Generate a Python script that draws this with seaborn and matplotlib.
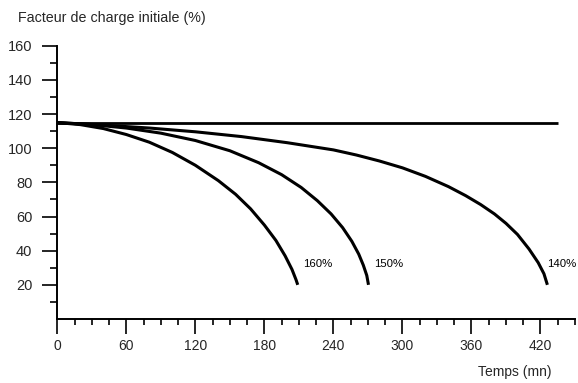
import numpy as np
import pandas as pd
import matplotlib
matplotlib.use("Agg")
import matplotlib.pyplot as plt
import seaborn as sns
from matplotlib.ticker import MultipleLocator, FixedLocator

# ---- data ----
flat_t = [0, 435]
flat_v = [115, 115]

c160_t = [0, 20, 40, 60, 80, 100, 120, 140, 155, 168, 180, 190, 198, 204, 207.5, 209]
c160_v = [115, 113.8, 111.5, 108, 103.5, 97.5, 90, 81, 73, 64.5, 55, 46, 37, 29, 23, 20]

c150_t = [0, 30, 60, 90, 120, 150, 175, 195, 212, 226, 238, 248, 256, 262, 266, 269, 270.5]
c150_v = [115, 113.8, 111.8, 108.8, 104.5, 98.5, 91.5, 84.5, 77, 69.3, 61.5, 53.5, 45.5, 38, 31.5, 25.5, 20]

c140_t = [0, 40, 80, 120, 160, 200, 240, 260, 280, 300, 320, 340, 355, 368, 380, 390, 400, 410, 418, 423, 426]
c140_v = [115, 113.5, 111.8, 109.6, 106.8, 103.2, 99, 96, 92.5, 88.5, 83.5, 77.5, 72.2, 67, 61.5, 56, 49.5, 41, 33, 26.5, 20]

curve_labels = ["160%", "150%", "140%"]
label_t = [214, 275, 426]
label_v = [32, 32, 32]

x_major = [0, 60, 120, 180, 240, 300, 360, 420]
y_major = [20, 40, 60, 80, 100, 120, 140, 160]
y_minor = [10, 30, 50, 70, 90, 110, 130, 150]

title_text = "Facteur de charge initiale (%)"
xlabel_text = "Temps (mn)"

# ---- style ----
sns.set_style("ticks")
plt.rcParams['font.family'] = ['Liberation Sans', 'DejaVu Sans']

fig = plt.figure(figsize=(5.78, 3.83), dpi=100)
ax = fig.add_axes([57.3 / 578, 64 / 383, (575 - 57.3) / 578, (319 - 45.7) / 383])

series = [("flat", flat_t, flat_v, 2.0),
          ("160", c160_t, c160_v, 2.2),
          ("150", c150_t, c150_v, 2.2),
          ("140", c140_t, c140_v, 2.2)]
for name, t, v, lw in series:
    df = pd.DataFrame({"t": t, "v": v})
    sns.lineplot(data=df, x="t", y="v", ax=ax, color="black", lw=lw,
                 sort=False, estimator=None, solid_capstyle="butt",
                 solid_joinstyle="round")

for lab, t, v in zip(curve_labels, label_t, label_v):
    ax.text(t, v, lab, fontsize=8.2, ha="left", va="center", color="black")

ax.set_xlim(0, 450)
ax.set_ylim(0, 160)
ax.set_xlabel("")
ax.set_ylabel("")

ax.xaxis.set_major_locator(FixedLocator(x_major))
ax.xaxis.set_minor_locator(MultipleLocator(15))
ax.yaxis.set_major_locator(FixedLocator(y_major))
ax.yaxis.set_minor_locator(FixedLocator(y_minor))

ax.tick_params(axis="y", which="major", length=11, width=1.2, pad=7,
               labelsize=10.5, direction="out", color="black")
ax.tick_params(axis="y", which="minor", length=5, width=1.2, direction="out", color="black")
ax.tick_params(axis="x", which="major", length=10.5, width=1.2, pad=4,
               labelsize=10, direction="out", color="black")
ax.tick_params(axis="x", which="minor", length=4, width=1.2, direction="out", color="black")

sns.despine(ax=ax)
for s in ["left", "bottom"]:
    ax.spines[s].set_linewidth(1.4)
    ax.spines[s].set_color("black")

fig.text(18 / 578, 1 - 18 / 383, title_text, fontsize=10.3, ha="left", va="center")
fig.text(552 / 578, 1 - 372 / 383, xlabel_text, fontsize=10, ha="right", va="center")

fig.savefig("out.png", dpi=100, facecolor="white")
